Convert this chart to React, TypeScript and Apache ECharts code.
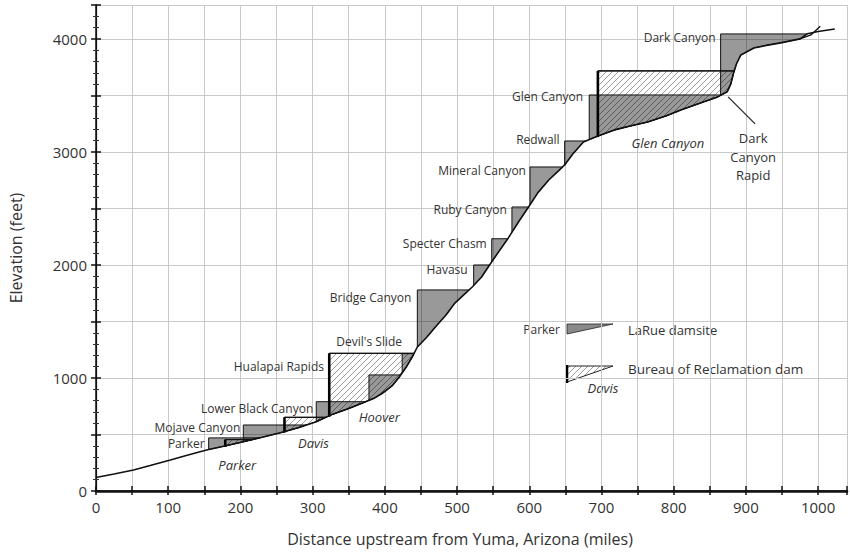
import React, { useEffect, useRef } from 'react';
import * as echarts from 'echarts';

// River profile: distance upstream from Yuma (miles) vs elevation (feet)
const riverMiles = [0, 25, 52, 75, 103, 125, 153, 180, 204, 230, 254, 280, 305, 328, 350, 369, 385, 397, 410, 420, 430, 438, 445, 458, 470, 485, 497, 510, 521, 534, 545, 558, 571, 585, 599, 612, 627, 640, 649, 660, 675, 695, 718, 740, 764, 790, 810, 840, 861, 874, 879, 883, 887, 893, 911, 930, 948, 975, 985, 1000, 1023];
const riverElev = [120, 150, 186, 225, 274, 315, 363, 400, 436, 475, 513, 560, 613, 680, 730, 778, 820, 867, 930, 1009, 1100, 1186, 1274, 1360, 1451, 1560, 1663, 1740, 1805, 1894, 2000, 2120, 2239, 2380, 2513, 2640, 2752, 2830, 2885, 2980, 3088, 3140, 3195, 3230, 3265, 3320, 3372, 3440, 3487, 3531, 3600, 3700, 3780, 3858, 3920, 3945, 3965, 4000, 4045, 4065, 4088];
const branchMiles = [975, 990, 1003];
const branchElev = [4000, 4035, 4112];

// LaRue damsites: dam location (miles) and pool elevation (feet)
const laRueNames = ['Parker', 'Mojave Canyon', 'Lower Black Canyon', 'Hualapai Rapids', "Devil's Slide", 'Bridge Canyon', 'Havasu', 'Specter Chasm', 'Ruby Canyon', 'Mineral Canyon', 'Redwall', 'Glen Canyon', 'Dark Canyon'];
const laRueMiles = [156, 204, 305, 378, 424, 445, 523, 548, 576, 601, 649, 683, 865];
const laRuePools = [470, 584, 790, 1027, 1215, 1779, 2000, 2232, 2513, 2867, 3097, 3504, 4044];

// Bureau of Reclamation dams
const bureauNames = ['Parker', 'Davis', 'Hoover', 'Glen Canyon'];
const bureauMiles = [179, 261, 323, 695];
const bureauPools = [455, 652, 1218, 3717];

// Annotation
const rapidName = 'Dark\nCanyon\nRapid';
const rapidMile = 874;
const rapidElev = 3531;

// Tick values
const xLabelStep = 100;
const yLabelStep = 1000;

// label placement (pixel offsets from dam's top-left corner) — styling only
const laRueLabelStyle: Record<string, [number, number, string]> = {
  'Parker': [-4, 6, 'right'],
  'Mojave Canyon': [-3, 3, 'right'],
  'Lower Black Canyon': [-3, 7, 'right'],
  'Hualapai Rapids': [-45, -8, 'right'],
  "Devil's Slide": [-33, -12, 'center'],
  'Bridge Canyon': [-6, 8, 'right'],
  'Havasu': [-6, 5, 'right'],
  'Specter Chasm': [-5, 5, 'right'],
  'Ruby Canyon': [-5, 3, 'right'],
  'Mineral Canyon': [-4, 4, 'right'],
  'Redwall': [-5, -1, 'right'],
  'Glen Canyon': [-6, 2, 'right'],
  'Dark Canyon': [-5, 4, 'right'],
};
const bureauLabelStyle: Record<string, [number, number]> = {
  'Parker': [12, 25],
  'Davis': [29, 26],
  'Hoover': [50, 64],
  'Glen Canyon': [70, 72],
};

const FONT = '"Open Sans", "Noto Sans", sans-serif';
const TEXT = '#333';
const GRID = '#c9c9c9';

function riverAt(m: number): number {
  for (let i = 0; i < riverMiles.length - 1; i++) {
    if (m >= riverMiles[i] && m <= riverMiles[i + 1]) {
      const t = (m - riverMiles[i]) / (riverMiles[i + 1] - riverMiles[i]);
      return riverElev[i] + t * (riverElev[i + 1] - riverElev[i]);
    }
  }
  return riverElev[riverElev.length - 1];
}

function poolEnd(m: number, pool: number): number {
  for (let i = 0; i < riverMiles.length - 1; i++) {
    if (riverMiles[i + 1] <= m) continue;
    const a = riverElev[i], b = riverElev[i + 1];
    if (b >= pool && a < pool) {
      const t = (pool - a) / (b - a);
      return riverMiles[i] + t * (riverMiles[i + 1] - riverMiles[i]);
    }
  }
  return riverMiles[riverMiles.length - 1];
}

function reservoir(m: number, pool: number): number[][] {
  const e = poolEnd(m, pool);
  const pts: number[][] = [[m, pool], [e, pool]];
  for (let i = riverMiles.length - 1; i >= 0; i--) {
    if (riverMiles[i] > m && riverMiles[i] < e) pts.push([riverMiles[i], riverElev[i]]);
  }
  pts.push([m, riverAt(m)]);
  return pts;
}

function makeHatch(bg: string, line: string, size: number) {
  const c = document.createElement('canvas');
  c.width = size;
  c.height = size;
  const ctx = c.getContext('2d')!;
  ctx.fillStyle = bg;
  ctx.fillRect(0, 0, size, size);
  ctx.strokeStyle = line;
  ctx.lineWidth = 1;
  ctx.beginPath();
  ctx.moveTo(0, size); ctx.lineTo(size, 0);
  ctx.moveTo(-1, 1); ctx.lineTo(1, -1);
  ctx.moveTo(size - 1, size + 1); ctx.lineTo(size + 1, size - 1);
  ctx.stroke();
  return { image: c.toDataURL(), repeat: 'repeat', imageWidth: size, imageHeight: size };
}

export default function App() {
  const ref = useRef<HTMLDivElement>(null);
  useEffect(() => {
    if (!ref.current) return;
    const chart = echarts.init(ref.current, null, { renderer: 'svg' });
    const hatch = makeHatch('#ffffff', '#9a9a9a', 6);
    const laRueFill = 'rgba(0,0,0,0.40)';

    const axisCommon = {
      type: 'value',
      axisLine: { show: true, lineStyle: { color: '#111', width: 1.5 } },
      axisTick: { show: true, inside: true, length: 5, lineStyle: { color: '#111', width: 1.5 } },
    };

    const option: any = {
      animation: false,
      backgroundColor: '#fff',
      grid: { left: 92, right: 3, top: 5, bottom: 64, containLabel: false },
      xAxis: [
        {
          ...axisCommon,
          position: 'bottom',
          min: 0, max: 1040, interval: 50,
          axisLabel: {
            margin: 8, fontSize: 15, color: TEXT, fontFamily: FONT,
            formatter: (v: number) => (v % xLabelStep === 0 ? String(v) : ''),
          },
          splitLine: { show: true, lineStyle: { color: GRID, width: 1, type: 'solid' } },
          name: 'Distance upstream from Yuma, Arizona (miles)',
          nameLocation: 'middle',
          nameGap: 40,
          nameTextStyle: { fontSize: 16, color: TEXT, fontFamily: FONT, padding: [0, 23, 0, 0] },
        },
        {
          ...axisCommon,
          position: 'top',
          min: 0, max: 1040, interval: 50,
          axisLine: { show: true, lineStyle: { color: '#111', width: 2.5 } },
          axisTick: { show: true, inside: true, length: 4, lineStyle: { color: '#111', width: 1.5 } },
          axisLabel: { show: false },
          splitLine: { show: false },
        },
      ],
      yAxis: [
        {
          ...axisCommon,
          position: 'left',
          min: 0, max: 4300, interval: 500,
          minorTick: { show: true, splitNumber: 5, length: 3, lineStyle: { color: '#333', width: 1 } },
          axisLabel: {
            margin: 9, fontSize: 15, color: TEXT, fontFamily: FONT,
            formatter: (v: number) => (v % yLabelStep === 0 ? String(v) : ''),
          },
          splitLine: { show: true, lineStyle: { color: GRID, width: 1, type: 'solid' } },
          name: 'Elevation (feet)',
          nameLocation: 'middle',
          nameGap: 72,
          nameTextStyle: { fontSize: 16, color: TEXT, fontFamily: FONT },
        },
        {
          ...axisCommon,
          position: 'right',
          min: 0, max: 4300, interval: 500,
          axisLine: { show: true, lineStyle: { color: '#111', width: 1.2 } },
          minorTick: { show: true, splitNumber: 5, length: 3, lineStyle: { color: '#333', width: 1 } },
          axisLabel: { show: false },
          splitLine: { show: false },
        },
      ],
      series: [
        {
          type: 'custom',
          name: 'bureauFill',
          coordinateSystem: 'cartesian2d',
          clip: false,
          z: 2,
          data: bureauMiles.map((m, i) => [m, bureauPools[i]]),
          renderItem: (params: any, api: any) => {
            const m = api.value(0), p = api.value(1);
            const pts = reservoir(m, p).map((pt) => api.coord(pt));
            return {
              type: 'polygon',
              shape: { points: pts },
              style: { fill: hatch, stroke: '#111', lineWidth: 1 },
            };
          },
        },
        {
          type: 'custom',
          name: 'laRueFill',
          coordinateSystem: 'cartesian2d',
          clip: false,
          z: 3,
          data: laRueMiles.map((m, i) => [m, laRuePools[i]]),
          renderItem: (params: any, api: any) => {
            const m = api.value(0), p = api.value(1);
            const pts = reservoir(m, p).map((pt) => api.coord(pt));
            return {
              type: 'polygon',
              shape: { points: pts },
              style: { fill: laRueFill, stroke: '#111', lineWidth: 1 },
            };
          },
        },
        {
          type: 'custom',
          name: 'bureauDam',
          coordinateSystem: 'cartesian2d',
          clip: false,
          z: 4,
          data: bureauMiles.map((m, i) => [m, bureauPools[i]]),
          renderItem: (params: any, api: any) => {
            const m = api.value(0), p = api.value(1);
            const top = api.coord([m, p]);
            const bot = api.coord([m, riverAt(m)]);
            const end = api.coord([poolEnd(m, p), p]);
            return {
              type: 'group',
              children: [
                { type: 'line', shape: { x1: top[0], y1: top[1], x2: bot[0], y2: bot[1] + 1 }, style: { stroke: '#000', lineWidth: 2.6 } },
                { type: 'line', shape: { x1: top[0], y1: top[1], x2: end[0], y2: end[1] }, style: { stroke: '#111', lineWidth: 1.2 } },
              ],
            };
          },
        },
        {
          type: 'line',
          name: 'river',
          data: riverMiles.map((m, i) => [m, riverElev[i]]),
          symbol: 'none',
          z: 5,
          lineStyle: { color: '#111', width: 1.6 },
        },
        {
          type: 'line',
          name: 'branch',
          data: branchMiles.map((m, i) => [m, branchElev[i]]),
          symbol: 'none',
          z: 5,
          lineStyle: { color: '#111', width: 1.3 },
        },
        {
          type: 'custom',
          name: 'laRueLabels',
          coordinateSystem: 'cartesian2d',
          clip: false,
          z: 6,
          data: laRueMiles.map((m, i) => [m, laRuePools[i], i]),
          renderItem: (params: any, api: any) => {
            const name = laRueNames[params.dataIndex];
            const c = api.coord([api.value(0), api.value(1)]);
            const s = laRueLabelStyle[name] || [-4, 4, 'right'];
            return {
              type: 'text',
              x: c[0] + s[0], y: c[1] + s[1],
              style: { text: name, fill: TEXT, fontSize: 12, fontFamily: FONT, align: s[2], verticalAlign: 'middle' },
            };
          },
        },
        {
          type: 'custom',
          name: 'bureauLabels',
          coordinateSystem: 'cartesian2d',
          clip: false,
          z: 6,
          data: bureauMiles.map((m, i) => [m, bureauPools[i], i]),
          renderItem: (params: any, api: any) => {
            const name = bureauNames[params.dataIndex];
            const c = api.coord([api.value(0), api.value(1)]);
            const s = bureauLabelStyle[name] || [10, 20];
            return {
              type: 'text',
              x: c[0] + s[0], y: c[1] + s[1],
              style: { text: name, fill: TEXT, fontSize: 13, fontStyle: 'italic', fontFamily: FONT, align: 'center', verticalAlign: 'middle' },
            };
          },
        },
        {
          type: 'custom',
          name: 'rapid',
          coordinateSystem: 'cartesian2d',
          clip: false,
          z: 6,
          data: [[rapidMile, rapidElev]],
          renderItem: (params: any, api: any) => {
            const c = api.coord([api.value(0), api.value(1)]);
            return {
              type: 'group',
              children: [
                { type: 'line', shape: { x1: c[0] + 1, y1: c[1] + 5, x2: c[0] + 28, y2: c[1] + 32 }, style: { stroke: '#222', lineWidth: 1.3 } },
                {
                  type: 'text', x: c[0] + 26, y: c[1] + 65,
                  style: { text: rapidName, fill: TEXT, fontSize: 13, fontFamily: FONT, align: 'center', verticalAlign: 'middle', lineHeight: 18.5 },
                },
              ],
            };
          },
        },
      ],
      graphic: [
        { type: 'text', x: 560, y: 329, style: { text: 'Parker', fill: TEXT, fontSize: 12, fontFamily: FONT, align: 'right', verticalAlign: 'middle' } },
        { type: 'polygon', shape: { points: [[567, 324], [613, 324], [567, 334]] }, style: { fill: '#8a8a8a', stroke: '#222', lineWidth: 0.8 } },
        { type: 'text', x: 628, y: 330, style: { text: 'LaRue damsite', fill: TEXT, fontSize: 13, fontFamily: FONT, align: 'left', verticalAlign: 'middle' } },
        { type: 'polygon', shape: { points: [[567, 366], [613, 366], [567, 382]] }, style: { fill: hatch, stroke: '#222', lineWidth: 1 } },
        { type: 'line', shape: { x1: 567, y1: 365, x2: 567, y2: 383 }, style: { stroke: '#000', lineWidth: 2.5 } },
        { type: 'text', x: 603, y: 388, style: { text: 'Davis', fill: TEXT, fontSize: 13, fontStyle: 'italic', fontFamily: FONT, align: 'center', verticalAlign: 'middle' } },
        { type: 'text', x: 628, y: 369, style: { text: 'Bureau of Reclamation dam', fill: TEXT, fontSize: 13.5, fontFamily: FONT, align: 'left', verticalAlign: 'middle' } },
      ],
    };
    chart.setOption(option);
    return () => chart.dispose();
  }, []);
  return <div ref={ref} style={{ position: 'fixed', left: 0, top: 0, width: 850, height: 555 }} />;
}
